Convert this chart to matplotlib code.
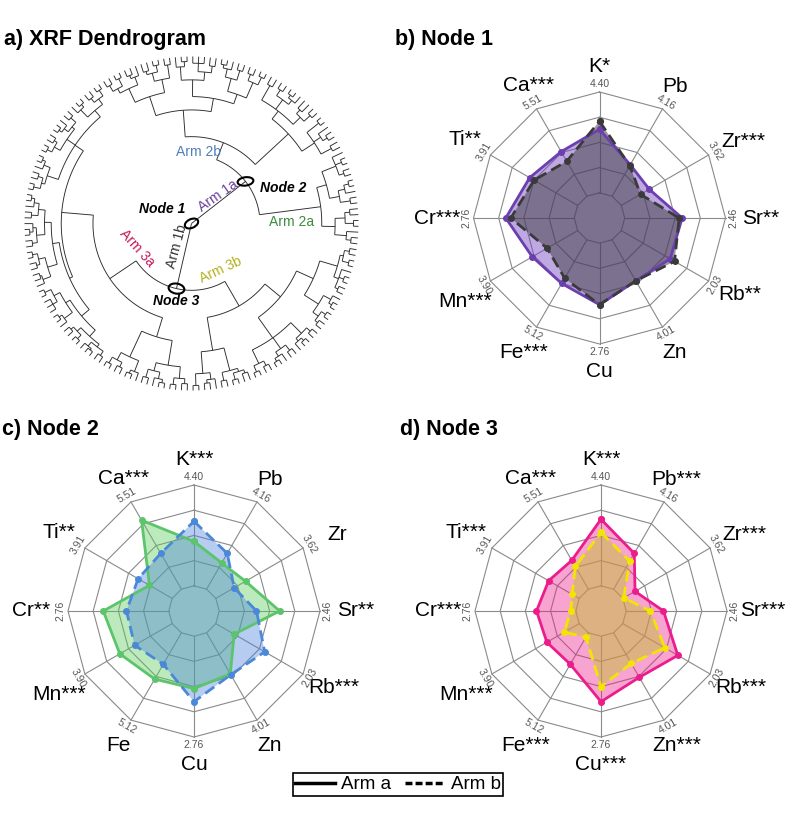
import numpy as np
import matplotlib
matplotlib.use('Agg')
import matplotlib.pyplot as plt
from matplotlib.lines import Line2D
from matplotlib.patches import Ellipse
from matplotlib.collections import LineCollection

plt.rcParams['font.family'] = ['Liberation Sans', 'DejaVu Sans']

W, H, DPI = 800, 817, 100

# ---------------- radar data ----------------
elements = ['K', 'Pb', 'Zr', 'Sr', 'Rb', 'Zn', 'Cu', 'Fe', 'Mn', 'Cr', 'Ti', 'Ca']
axis_max_labels = ['4.40', '4.16', '3.62', '2.46', '2.03', '4.01',
                   '2.76', '5.12', '3.90', '2.76', '3.91', '5.51']
node1_sig = ['*', '', '***', '**', '**', '', '', '***', '***', '***', '**', '***']
node2_sig = ['***', '', '', '**', '***', '', '', '', '***', '**', '**', '***']
node3_sig = ['***', '***', '***', '***', '***', '***', '***', '***', '***', '***', '***', '***']

# scaled values: 0 = innermost ring, 1 = outer ring
node1_arm_a = [0.63, 0.36, 0.32, 0.57, 0.56, 0.47, 0.61, 0.50, 0.52, 0.68, 0.55, 0.51]
node1_arm_b = [0.71, 0.35, 0.22, 0.54, 0.61, 0.47, 0.61, 0.44, 0.35, 0.63, 0.50, 0.40]
node2_arm_a = [0.44, 0.30, 0.34, 0.60, 0.21, 0.47, 0.52, 0.53, 0.60, 0.65, 0.26, 0.79]
node2_arm_b = [0.64, 0.41, 0.21, 0.37, 0.56, 0.48, 0.65, 0.36, 0.43, 0.42, 0.39, 0.41]
node3_arm_a = [0.66, 0.41, 0.14, 0.37, 0.63, 0.51, 0.65, 0.36, 0.37, 0.39, 0.35, 0.33]
node3_arm_b = [0.53, 0.32, 0.01, 0.24, 0.48, 0.35, 0.50, 0.05, 0.17, 0.05, 0.08, 0.26]

# ---------------- dendrogram data (topology + node radii in % of leaf radius) ----------------
clu_2a = "((((o,o)96,o)93,((o,o)97,(o,o)95)92)86,(((o,o)96,(o,(o,o)97)94)90,((o,o)96,(o,o)97,o)93)84)78"
clu_2b_right = "(((o,o)95,((o,o)96,o)93,(o,o)97)88,(((o,o)96,(o,o)94)91,((o,(o,o)97)95,(o,o)96)92,(o,o)95)85)79"
clu_2b_top = ("(((((o,o)97,(o,o)96)92,((o,o)96,(o,(o,o)97)95)90)82,(((o,o)95,(o,o,o)96)91,((o,o)97,o)94)86)76,"
              "(((o,o)96,((o,o)97,(o,o)95)93)88,((o,(o,o)96)94,((o,o)97,(o,o)96)92)89)80)68")
clu_3a_topleft = ("((((o,o)97,(o,o)96)93,((o,o)97,o)95)89,(((o,o)96,(o,(o,o)97)95)92,((o,o)96,(o,o)97)94)90,"
                  "(((o,o)97,o)95,((o,o)96,(o,o)97)93)91)84")
clu_3a_left_a1 = "((((o,o)97,o)95,(o,o)96)92,((o,(o,o)97)95,(o,o)96)93)88"
clu_3a_left_a2 = "(((o,o)97,(o,o)96)94,((o,o)96,o)95)90"
clu_3a_left_b = "((((o,o)97,(o,o,o)96)93,((o,o)97,o)95)89,(((o,o)96,(o,o)97)94,((o,(o,o)97)96,(o,o)96)93)91)86"
clu_3a_lower = "((((o,o)97,(o,o)96)93,((o,o)97,o)95)88,(((o,o)96,(o,(o,o)97)95)91,((o,o)97,(o,o)96)93)86)71"
clu_3b_bottom = "(((o,o)97,((o,o)96,o)94)90,((o,o)96,((o,o)97,(o,o)95)93)91)77"
clu_3b_right = ("((((o,o)97,(o,o)96)93,(((o,o)97,o)95,(o,o)96)92,((o,(o,o)97)95,(o,o)96)93)84,"
                "((((o,o)96,(o,o)97)94,((o,o)97,o)95)90,(((o,o)96,(o,o)97,o)94,((o,o)97,(o,o)96)93)91)80)69")

clu_3a_left = "((" + clu_3a_left_a1 + "," + clu_3a_left_a2 + ")84," + clu_3a_left_b + ")80"
node2_str = "(" + clu_2a + ",(" + clu_2b_right + "," + clu_2b_top + ")52)41"
node3_str = ("(((" + clu_3a_topleft + "," + clu_3a_left + ")78," + clu_3a_lower + ")59,("
             + clu_3b_bottom + "," + clu_3b_right + ")57)40")
tree_str = "(" + node2_str + "," + node3_str + ")0"
first_leaf_angle = -8.0


def parse(s):
    pos = [0]

    def node():
        if s[pos[0]] == 'o':
            pos[0] += 1
            return None
        pos[0] += 1
        ch = [node()]
        while s[pos[0]] == ',':
            pos[0] += 1
            ch.append(node())
        pos[0] += 1
        j = pos[0]
        while pos[0] < len(s) and s[pos[0]].isdigit():
            pos[0] += 1
        return (int(s[j:pos[0]]) / 100.0, ch)
    return node()


def count_leaves(n):
    return 1 if n is None else sum(count_leaves(c) for c in n[1])


tree = parse(tree_str)
n_leaves = count_leaves(tree)
step = 360.0 / n_leaves
segs = []
positions = {}
counter = [0]


def layout(n):
    if n is None:
        th = first_leaf_angle + (counter[0] + 0.5) * step
        counter[0] += 1
        return th, 1.0
    r, ch = n
    pts = [layout(c) for c in ch]
    ths = [p[0] for p in pts]
    lo, hi = min(ths), max(ths)
    th = (ths[0] + ths[-1]) / 2.0
    if r > 0:
        a = np.deg2rad(np.linspace(lo, hi, max(3, int((hi - lo) * 2) + 2)))
        segs.append(np.column_stack([r * np.cos(a), r * np.sin(a)]))
    for tc, rc in pts:
        t = np.deg2rad(tc)
        segs.append(np.array([[r * np.cos(t), r * np.sin(t)], [rc * np.cos(t), rc * np.sin(t)]]))
    positions[id(n)] = (th, r)
    return th, r


layout(tree)

fig = plt.figure(figsize=(W / DPI, H / DPI), dpi=DPI)


def px_axes(cx, cy, half):
    ax = fig.add_axes([(cx - half) / W, (H - cy - half) / H, 2 * half / W, 2 * half / H])
    ax.set_facecolor('none')
    ax.axis('off')
    return ax


# ---------------- panel a ----------------
Rl = 167.0
axd = px_axes(191.5, 223.5, 1.1 * Rl)
axd.set_xlim(-1.1, 1.1)
axd.set_ylim(-1.1, 1.1)
axd.add_collection(LineCollection(segs, colors='#2a2a2a', linewidths=0.65))


def node_xy(n):
    th, r = positions[id(n)]
    return r * np.cos(np.deg2rad(th)), r * np.sin(np.deg2rad(th))


n2, n3 = tree[1][0], tree[1][1]
for (x, y), w, h, ang in [((0, 0), 0.085, 0.052, 25), (node_xy(n2), 0.095, 0.05, 8),
                          (node_xy(n3), 0.095, 0.06, -10)]:
    axd.add_patch(Ellipse((x, y), w, h, angle=ang, fill=False, ec='black', lw=1.5, zorder=5))


def ptxt(px, py, s, **kw):
    axd.text((px - 191.5) / Rl, (223.5 - py) / Rl, s, ha='center', va='center', **kw)


ptxt(162.5, 209, 'Node 1', fontsize=10, fontweight='bold', style='italic')
ptxt(283.5, 187.5, 'Node 2', fontsize=10, fontweight='bold', style='italic')
ptxt(176, 301, 'Node 3', fontsize=10, fontweight='bold', style='italic')
ptxt(198.5, 152.5, 'Arm 2b', fontsize=10, color='#4f7fb8')
ptxt(218, 196, 'Arm 1a', fontsize=10, color='#6a3d9a', rotation=35)
ptxt(291.7, 222.5, 'Arm 2a', fontsize=10, color='#3d8b3d')
ptxt(176.5, 246.5, 'Arm 1b', fontsize=10, color='#333333', rotation=75)
ptxt(136.7, 248.3, 'Arm 3a', fontsize=10, color='#c2185b', rotation=-48)
ptxt(220.7, 270, 'Arm 3b', fontsize=10, color='#b5b01e', rotation=25)

# ---------------- radar panels ----------------
RR = 126.0
# label centres (in units of the outer-ring radius), clockwise from top
label_xy = [(0.0, 1.2), (0.6, 1.04), (1.14, 0.61), (1.28, 0.0), (1.11, -0.61), (0.6, -1.07),
            (0.0, -1.22), (-0.6, -1.07), (-1.07, -0.66), (-1.29, 0.0), (-1.07, 0.62), (-0.56, 1.05)]


def radar(cx, cy, vals_a, vals_b, sig, ca, fa, cb, fb):
    ax = px_axes(cx, cy, 1.45 * RR)
    ax.set_xlim(-1.45, 1.45)
    ax.set_ylim(-1.45, 1.45)
    n = len(elements)
    ang = np.deg2rad(np.arange(n) * 360.0 / n)
    sx, sy = np.sin(ang), np.cos(ang)
    for k in range(1, 6):
        f = k / 5.0
        ax.plot(np.append(f * sx, f * sx[0]), np.append(f * sy, f * sy[0]), color='#8a8a8a', lw=0.8, zorder=1)
    for i in range(n):
        ax.plot([0.2 * sx[i], sx[i]], [0.2 * sy[i], sy[i]], color='#8a8a8a', lw=0.8, zorder=1)
    ra = (1 + 4 * np.array(vals_a)) / 5.0
    rb = (1 + 4 * np.array(vals_b)) / 5.0
    ax.fill(ra * sx, ra * sy, color=fa, lw=0, zorder=2)
    ax.fill(rb * sx, rb * sy, color=fb, lw=0, zorder=3)
    ax.plot(np.append(ra * sx, ra[0] * sx[0]), np.append(ra * sy, ra[0] * sy[0]), color=ca, lw=2.0,
            marker='o', ms=4, zorder=4)
    ax.plot(np.append(rb * sx, rb[0] * sx[0]), np.append(rb * sy, rb[0] * sy[0]), color=cb, lw=2.0,
            ls=(0, (4, 2)), marker='o', ms=4, zorder=5)
    for i in range(n):
        lx, ly = label_xy[i]
        ax.text(lx, ly, elements[i] + sig[i], ha='center', va='center', fontsize=15)
        deg = i * 360.0 / n
        rot = -deg
        while rot <= -90:
            rot += 180
        while rot > 90:
            rot -= 180
        ax.text(1.06 * sx[i], 1.06 * sy[i], axis_max_labels[i], ha='center', va='center',
                fontsize=7.5, color='#555555', rotation=rot, rotation_mode='anchor')
    return ax


radar(599.5, 218, node1_arm_a, node1_arm_b, node1_sig,
      '#6b3fb0', (0.45, 0.25, 0.75, 0.45), '#3a3a3a', (0.23, 0.23, 0.23, 0.5))
radar(194, 611, node2_arm_a, node2_arm_b, node2_sig,
      '#5cc46a', (0.35, 0.8, 0.35, 0.4), '#4a88d8', (0.29, 0.5, 0.86, 0.4))
radar(601, 611, node3_arm_a, node3_arm_b, node3_sig,
      '#ec1c8c', (0.92, 0.11, 0.55, 0.4), '#f2e600', (0.77, 0.75, 0.2, 0.5))

# ---------------- titles ----------------
for x, y, s in [(4, 45, 'a) XRF Dendrogram'), (395, 45, 'b) Node 1'),
                (2, 435, 'c) Node 2'), (400, 435, 'd) Node 3')]:
    fig.text(x / W, 1 - y / H, s, fontsize=15.5, fontweight='bold', va='baseline', ha='left')

# ---------------- legend ----------------
handles = [Line2D([], [], color='black', lw=2.5, ls='-'),
           Line2D([], [], color='black', lw=2.5, ls=(0, (2, 0.9)))]
leg = fig.legend(handles, ['Arm a', 'Arm b'], loc='center', bbox_to_anchor=(398 / W, 1 - 784.5 / H),
                 ncol=2, fontsize=13.5, frameon=True, fancybox=False, edgecolor='black', framealpha=1,
                 borderpad=0.15, handlelength=2.1, handletextpad=0.35, columnspacing=0.7,
                 borderaxespad=0)
leg.get_frame().set_linewidth(1.2)

fig.savefig('out.png', dpi=DPI)
